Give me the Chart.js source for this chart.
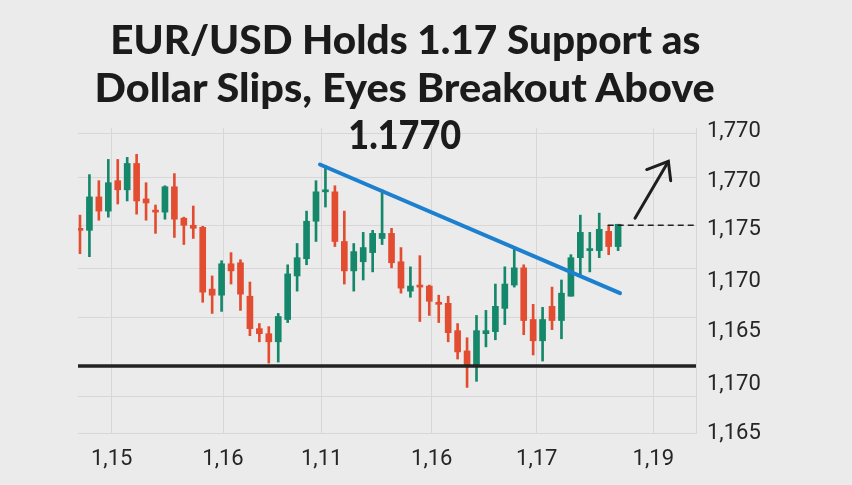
<!DOCTYPE html>
<html>
<head>
<meta charset="utf-8">
<script src="https://cdn.jsdelivr.net/npm/chart.js@4.4.1/dist/chart.umd.min.js"></script>
<style>
  html, body { margin: 0; padding: 0; background: #ebebeb; }
  #wrap { position: relative; width: 852px; height: 485px; overflow: hidden; background: #ebebeb; }
  #c { position: absolute; left: 0; top: 0; }
  #title {
    position: absolute; left: 0; top: 16px; width: 810px;
    text-align: center; font-family: Lato, "Open Sans", sans-serif; font-weight: 900;
    font-size: 40px; line-height: 47.5px; color: #1b1b1b;
  }
  #title div { white-space: nowrap; }
  #title span { display: inline-block; transform-origin: center; }
</style>
</head>
<body>
<div id="wrap">
  <canvas id="c" width="852" height="485"></canvas>
  <div id="title">
    <div><span data-w="590">EUR/USD Holds 1.17 Support as</span></div>
    <div><span data-w="620">Dollar Slips, Eyes Breakout Above</span></div>
    <div><span data-w="113">1.1770</span></div>
  </div>
</div>
<script>
// velas (OHLC), una por sesión
const opens  = [1.1804, 1.1802, 1.1835, 1.1821, 1.1851, 1.1842, 1.1868, 1.1833, 1.1822, 1.1820,
                1.1845, 1.1814, 1.1807, 1.1805, 1.1744, 1.1738, 1.1769, 1.1770, 1.1737, 1.1705,
                1.1700, 1.1692, 1.1714, 1.1757, 1.1774, 1.1811, 1.1840, 1.1840, 1.1791, 1.1762,
                1.1771, 1.1780, 1.1794, 1.1799, 1.1771, 1.1742, 1.1748, 1.1747, 1.1731, 1.1730,
                1.1703, 1.1683, 1.1669, 1.1700, 1.1702, 1.1725, 1.1748, 1.1765, 1.1714, 1.1693,
                1.1727, 1.1713, 1.1737, 1.1775, 1.1782, 1.1782, 1.1801, 1.1786];
const highs  = [1.1817, 1.1857, 1.1851, 1.1872, 1.1872, 1.1874, 1.1877, 1.1849, 1.1827, 1.1846,
                1.1858, 1.1815, 1.1826, 1.1806, 1.1757, 1.1772, 1.1780, 1.1773, 1.1751, 1.1710,
                1.1707, 1.1720, 1.1768, 1.1789, 1.1821, 1.1851, 1.1866, 1.1846, 1.1821, 1.1789,
                1.1800, 1.1802, 1.1842, 1.1804, 1.1785, 1.1766, 1.1777, 1.1748, 1.1738, 1.1737,
                1.1710, 1.1696, 1.1718, 1.1723, 1.1749, 1.1766, 1.1784, 1.1768, 1.1729, 1.1726,
                1.1746, 1.1753, 1.1778, 1.1817, 1.1800, 1.1819, 1.1807, 1.1808];
const lows   = [1.1779, 1.1776, 1.1812, 1.1815, 1.1828, 1.1831, 1.1818, 1.1812, 1.1799, 1.1813,
                1.1795, 1.1788, 1.1794, 1.1731, 1.1720, 1.1722, 1.1749, 1.1723, 1.1698, 1.1692,
                1.1671, 1.1672, 1.1711, 1.1742, 1.1768, 1.1791, 1.1825, 1.1786, 1.1749, 1.1742,
                1.1753, 1.1761, 1.1788, 1.1765, 1.1740, 1.1736, 1.1712, 1.1718, 1.1711, 1.1692,
                1.1675, 1.1647, 1.1653, 1.1687, 1.1694, 1.1709, 1.1746, 1.1699, 1.1679, 1.1673,
                1.1704, 1.1695, 1.1737, 1.1758, 1.1761, 1.1775, 1.1778, 1.1782];
const closes = [1.1802, 1.1835, 1.1821, 1.1849, 1.1842, 1.1868, 1.1831, 1.1829, 1.1820, 1.1845,
                1.1813, 1.1807, 1.1804, 1.1741, 1.1738, 1.1769, 1.1762, 1.1739, 1.1705, 1.1700,
                1.1692, 1.1717, 1.1759, 1.1775, 1.1811, 1.1840, 1.1842, 1.1791, 1.1762, 1.1781,
                1.1785, 1.1799, 1.1799, 1.1770, 1.1745, 1.1747, 1.1746, 1.1732, 1.1729, 1.1701,
                1.1682, 1.1669, 1.1703, 1.1703, 1.1727, 1.1749, 1.1765, 1.1713, 1.1693, 1.1714,
                1.1713, 1.1740, 1.1775, 1.1800, 1.1784, 1.1803, 1.1786, 1.1808];

// ejes (las etiquetas son tal cual aparecen en la imagen)
const xTickPos    = [3.36, 15.15, 25.6, 37.26, 48.38, 60.73];
const xTickLabels = ['1,15', '1,16', '1,11', '1,16', '1,17', '1,19'];
const yTickPos    = [1.1602, 1.1650, 1.1702, 1.1752, 1.1803, 1.1850, 1.1900];
const yTickLabels = ['1,165', '1,170', '1,165', '1,170', '1,175', '1,770', '1,770'];
const yGridPos    = [1.1638, 1.1716, 1.1764, 1.1807, 1.1854, 1.1898];

// líneas dibujadas encima
const trendX   = [25.42, 57.2];
const trendY   = [1.1867, 1.1740];
const supportX = [-0.21, 65.25];
const supportY = [1.1668, 1.1668];
const breakX   = [55.9, 65.25];
const breakY   = [1.1807, 1.1807];
const arrowX   = [58.79, 62.32];
const arrowY   = [1.1814, 1.1870];
const headX    = [60.03, 62.32, 62.57];
const headY    = [1.1862, 1.1870, 1.1851];

const UP = '#15876b';
const DOWN = '#e24d31';
const GRID = '#d7d7d7';
const TXT = '#262626';

const idx = opens.map((_, i) => i);
const colors = idx.map(i => closes[i] >= opens[i] ? UP : DOWN);
const pts = (xs, ys) => xs.map((x, i) => ({ x: x, y: ys[i] }));

function lineSet(xs, ys, color, width, extra) {
  return Object.assign({
    type: 'line', data: pts(xs, ys), borderColor: color, borderWidth: width,
    pointRadius: 0, tension: 0, fill: false, order: 0
  }, extra || {});
}

new Chart(document.getElementById('c'), {
  type: 'bar',
  data: {
    datasets: [
      lineSet(trendX, trendY, '#1d80cf', 4, { borderCapStyle: 'round' }),
      lineSet(supportX, supportY, '#222222', 3.5),
      lineSet(breakX, breakY, '#222222', 1.5, { borderDash: [6, 4] }),
      lineSet(arrowX, arrowY, '#1e1e1e', 3, { borderCapStyle: 'round' }),
      lineSet(headX, headY, '#1e1e1e', 3, { borderCapStyle: 'round', borderJoinStyle: 'miter' }),
      {
        type: 'bar', data: idx.map(i => ({ x: i, y: [lows[i], highs[i]] })),
        backgroundColor: colors, barThickness: 2, grouped: false, order: 2
      },
      {
        type: 'bar', data: idx.map(i => ({ x: i, y: [opens[i], closes[i]] })),
        backgroundColor: colors, barThickness: 6, grouped: false, order: 1
      }
    ]
  },
  options: {
    responsive: false,
    animation: false,
    devicePixelRatio: 1,
    layout: { padding: { left: 78, top: 128, right: 0, bottom: 0 } },
    plugins: { legend: { display: false }, tooltip: { enabled: false } },
    scales: {
      x: {
        type: 'linear', min: -0.21, max: 65.25, offset: false,
        afterBuildTicks: s => { s.ticks = xTickPos.map(v => ({ value: v })); },
        afterFit: s => { s.height = 52; },
        ticks: {
          autoSkip: false, maxRotation: 0, padding: 13, color: TXT,
          font: { family: 'Roboto', size: 22 },
          callback: (v, i) => xTickLabels[i]
        },
        grid: { color: GRID, drawTicks: false, offset: false },
        border: { color: GRID }
      },
      y: {
        position: 'right', min: 1.1602, max: 1.1903,
        afterBuildTicks: s => { s.ticks = yTickPos.map(v => ({ value: v })); },
        afterFit: s => { s.width = 156; },
        ticks: {
          padding: 11, color: TXT,
          font: { family: 'Roboto', size: 22 },
          callback: (v, i) => yTickLabels[i]
        },
        grid: { display: false, drawTicks: false },
        border: { display: true, color: GRID }
      },
      yg: {
        position: 'left', min: 1.1602, max: 1.1903,
        afterBuildTicks: s => { s.ticks = yGridPos.map(v => ({ value: v })); },
        afterFit: s => { s.width = 0; },
        ticks: { display: false },
        grid: { color: GRID, drawTicks: false },
        border: { display: false }
      }
    }
  }
});

// ajustar el ancho de cada línea del título
document.querySelectorAll('#title span').forEach(sp => {
  const w = sp.getBoundingClientRect().width;
  const target = +sp.dataset.w;
  if (w > 0) sp.style.transform = 'scaleX(' + (target / w).toFixed(3) + ')';
});
</script>
</body>
</html>
